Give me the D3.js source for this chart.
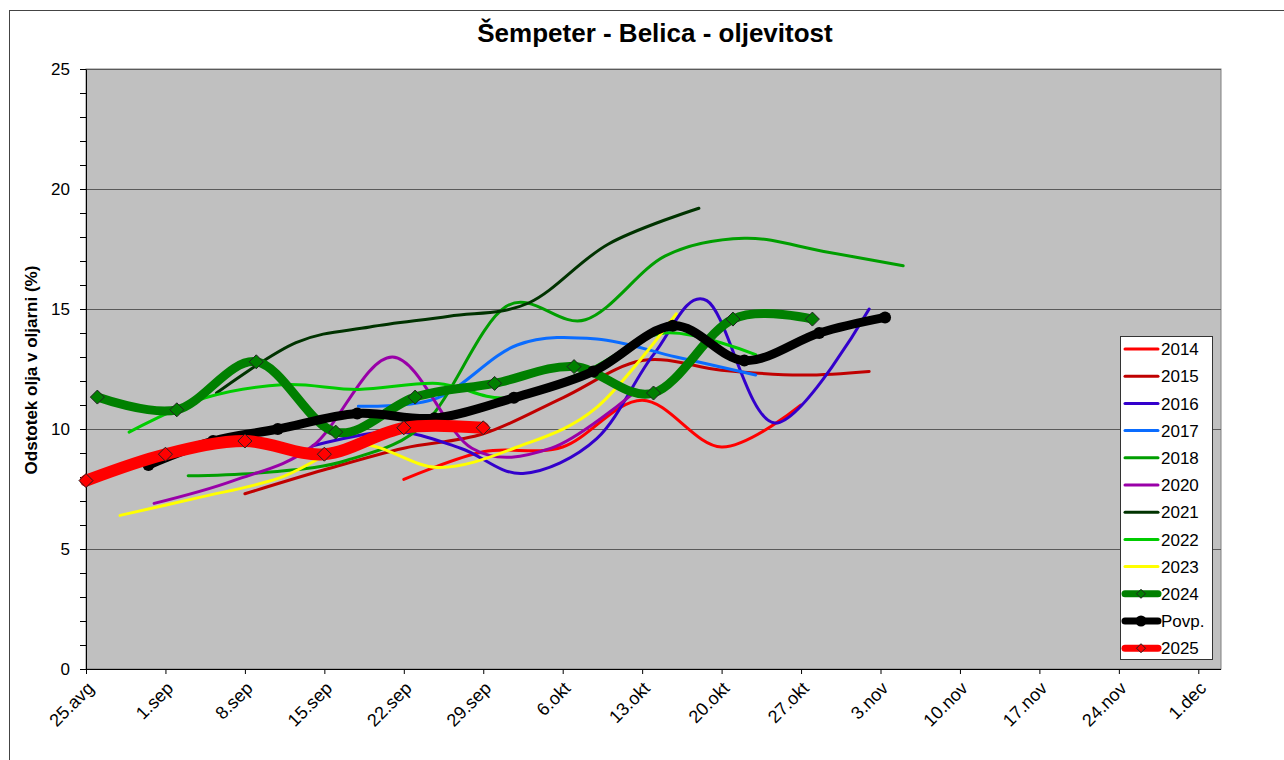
<!DOCTYPE html>
<html lang="sl">
<head>
<meta charset="utf-8">
<title>Šempeter - Belica - oljevitost</title>
<script src="https://cdn.jsdelivr.net/npm/d3@7"></script>
<style>
  body { margin: 0; background: #fff; }
  text { font-family: "Liberation Sans", Arial, sans-serif; }
</style>
</head>
<body>
<script>
// days are counted from 25 Aug (day 0); values are % oil
var xTickDays = [0, 7, 14, 21, 28, 35, 42, 49, 56, 63, 70, 77, 84, 91, 98]
var xTickLabels = ["25.avg", "1.sep", "8.sep", "15.sep", "22.sep", "29.sep", "6.okt",
                   "13.okt", "20.okt", "27.okt", "3.nov", "10.nov", "17.nov", "24.nov", "1.dec"]
var yTicks = [0, 5, 10, 15, 20, 25]

var d2014 = [[28, 7.9], [35, 9.05], [42, 9.25], [49, 11.2], [56, 9.25], [63, 11.0]]
var d2015 = [[14, 7.3], [21, 8.3], [28, 9.2], [35, 9.8], [42, 11.3], [49, 12.85], [56, 12.45], [63, 12.25], [69, 12.4]]
var d2016 = [[20, 9.3], [27, 9.9], [33, 9.2], [38.5, 8.15], [45, 9.6], [50, 13.1], [54.7, 15.35], [60.7, 10.25], [69, 15.0]]
var d2017 = [[24, 10.95], [31, 11.3], [38, 13.5], [45, 13.75], [52, 13.0], [59, 12.25]]
var d2018 = [[9, 8.05], [16, 8.2], [23, 8.7], [30, 10.3], [37, 15.1], [44, 14.55], [51, 17.2], [58, 17.95], [65, 17.4], [72, 16.8]]
var d2020 = [[6, 6.9], [13, 7.85], [20, 9.3], [27, 13.0], [34, 9.2], [41, 9.2], [48, 11.4]]
var d2021 = [[11.5, 11.5], [18.5, 13.6], [25, 14.25], [32, 14.7], [39, 15.25], [46, 17.7], [54, 19.2]]
var d2022 = [[3.8, 9.87], [10.5, 11.3], [17.5, 11.85], [24, 11.65], [31, 11.9], [37, 11.3], [44, 12.4], [51, 14.0], [59, 13.1]]
var d2023 = [[3, 6.4], [10, 7.15], [17, 7.95], [24, 9.35], [31, 8.4], [38, 9.25], [45, 10.9], [52, 14.8]]
var d2024 = [[1, 11.33], [8, 10.8], [15, 12.8], [22, 9.87], [29, 11.33], [36, 11.9], [43, 12.6], [50, 11.5], [57, 14.58], [64, 14.58]]
var dPovp = [[5.5, 8.5], [11.2, 9.5], [16.9, 10.0], [23.9, 10.65], [30.7, 10.45], [37.7, 11.3], [44.7, 12.4], [51.7, 14.3], [58, 12.85], [64.6, 14.0], [70.4, 14.65]]
var d2025 = [[0, 7.85], [7, 8.95], [14, 9.5], [21, 8.95], [28, 10.05], [35, 10.05]]

var series = [
  {name: "2014", data: d2014, color: "#FF0000", w: 3},
  {name: "2015", data: d2015, color: "#C00000", w: 3},
  {name: "2016", data: d2016, color: "#3300CC", w: 3},
  {name: "2017", data: d2017, color: "#0A6CFF", w: 3},
  {name: "2018", data: d2018, color: "#009E00", w: 3},
  {name: "2020", data: d2020, color: "#9900A8", w: 3},
  {name: "2021", data: d2021, color: "#003300", w: 3},
  {name: "2022", data: d2022, color: "#00CC00", w: 3},
  {name: "2023", data: d2023, color: "#FFFF00", w: 3},
  {name: "2024", data: d2024, color: "#008000", w: 9, marker: "diamond"},
  {name: "Povp.", data: dPovp, color: "#000000", w: 9, marker: "circle"},
  {name: "2025", data: d2025, color: "#FF0000", w: 12, marker: "diamond"}
]

var W = 1284, H = 760
var plotL = 86, plotR = 1221, plotT = 69, plotB = 669

var svg = d3.select("body").append("svg")
  .attr("width", W)
  .attr("height", H)

// chart area border
svg.append("rect")
  .attr("x", 9.5).attr("y", 10.5)
  .attr("width", W + 20).attr("height", H + 20)
  .attr("fill", "#fff").attr("stroke", "#444")

var x = d3.scaleLinear().domain([0, 100]).range([plotL, plotR])
var y = d3.scaleLinear().domain([0, 25]).range([plotB, plotT])

// plot area
svg.append("rect")
  .attr("x", plotL).attr("y", plotT)
  .attr("width", plotR - plotL).attr("height", plotB - plotT)
  .attr("fill", "#C0C0C0").attr("stroke", "#808080")

svg.selectAll(".grid").data(yTicks.slice(1)).enter().append("line")
  .attr("x1", plotL).attr("x2", plotR)
  .attr("y1", function(d){ return Math.round(y(d)) + 0.5 })
  .attr("y2", function(d){ return Math.round(y(d)) + 0.5 })
  .attr("stroke", "#5a5a5a").attr("stroke-width", 1)

// axes
var yAxis = d3.axisLeft(y)
  .tickValues(d3.range(0, 26))
  .tickFormat(function(d){ return d % 5 == 0 ? d : "" })
  .tickSize(6).tickPadding(10).tickSizeOuter(0)
var gy = svg.append("g").attr("transform", "translate(" + plotL + ",0)").call(yAxis)
gy.selectAll("text").attr("font-size", 17).attr("fill", "#000").attr("font-family", "Liberation Sans, Arial, sans-serif")
gy.selectAll("line").attr("stroke", "#000")
gy.select(".domain").attr("stroke", "#000")

var xAxis = d3.axisBottom(x)
  .tickValues(xTickDays)
  .tickFormat(function(d, i){ return xTickLabels[i] })
  .tickSize(5).tickSizeOuter(0)
var gx = svg.append("g").attr("transform", "translate(0," + plotB + ")").call(xAxis)
gx.select(".domain").attr("d", "M" + plotL + ",0.5H" + plotR).attr("stroke", "#000")
gx.selectAll("line").attr("stroke", "#000")
gx.selectAll("text")
  .attr("font-size", 18).attr("fill", "#000").attr("font-family", "Liberation Sans, Arial, sans-serif")
  .attr("text-anchor", "end")
  .attr("x", 0).attr("y", 0).attr("dy", "0.35em")
  .attr("transform", "translate(4,16) rotate(-45)")

// lines
var line = d3.line()
  .x(function(d){ return x(d[0]) })
  .y(function(d){ return y(d[1]) })
  .curve(d3.curveCardinal.tension(0))

var diamond = function(s){ return "M0," + (-s) + "L" + s + ",0L0," + s + "L" + (-s) + ",0Z" }

series.forEach(function(s){
  svg.append("path")
    .datum(s.data)
    .attr("d", line)
    .attr("fill", "none")
    .attr("stroke", s.color)
    .attr("stroke-width", s.w)
    .attr("stroke-linecap", "round")
    .attr("stroke-linejoin", "round")
  if (s.marker == "diamond") {
    svg.selectAll(null).data(s.data).enter().append("path")
      .attr("d", diamond(7))
      .attr("transform", function(d){ return "translate(" + x(d[0]) + "," + y(d[1]) + ")" })
      .attr("fill", s.color).attr("stroke", "#222").attr("stroke-width", 1)
  } else if (s.marker == "circle") {
    svg.selectAll(null).data(s.data).enter().append("circle")
      .attr("cx", function(d){ return x(d[0]) })
      .attr("cy", function(d){ return y(d[1]) })
      .attr("r", 6).attr("fill", s.color)
  }
})

// title + y label
svg.append("text")
  .attr("x", 655).attr("y", 42)
  .attr("text-anchor", "middle")
  .attr("font-size", 26).attr("font-weight", "bold")
  .text("Šempeter - Belica - oljevitost")

svg.append("text")
  .attr("transform", "translate(37,370) rotate(-90)")
  .attr("text-anchor", "middle")
  .attr("font-size", 17).attr("font-weight", "bold")
  .text("Odstotek olja v oljarni (%)")

// legend
var lg = svg.append("g")
lg.append("rect")
  .attr("x", 1120.5).attr("y", 336.5).attr("width", 92).attr("height", 323)
  .attr("fill", "#fff").attr("stroke", "#333")
var row = lg.selectAll(".row").data(series).enter().append("g")
  .attr("transform", function(d, i){ return "translate(0," + (349 + i * 27.2) + ")" })
row.append("line")
  .attr("x1", 1125).attr("x2", 1158)
  .attr("stroke", function(d){ return d.color })
  .attr("stroke-width", function(d){ return d.w > 3 ? 7 : 3 })
  .attr("stroke-linecap", "round")
row.filter(function(d){ return d.marker == "diamond" }).append("path")
  .attr("d", diamond(4.5))
  .attr("transform", "translate(1141,0)")
  .attr("fill", function(d){ return d.color }).attr("stroke", "#222")
row.filter(function(d){ return d.marker == "circle" }).append("circle")
  .attr("cx", 1141).attr("r", 5.5).attr("fill", "#000")
row.append("text")
  .attr("x", 1161).attr("dy", "0.36em")
  .attr("font-size", 17)
  .text(function(d){ return d.name })
</script>
</body>
</html>
